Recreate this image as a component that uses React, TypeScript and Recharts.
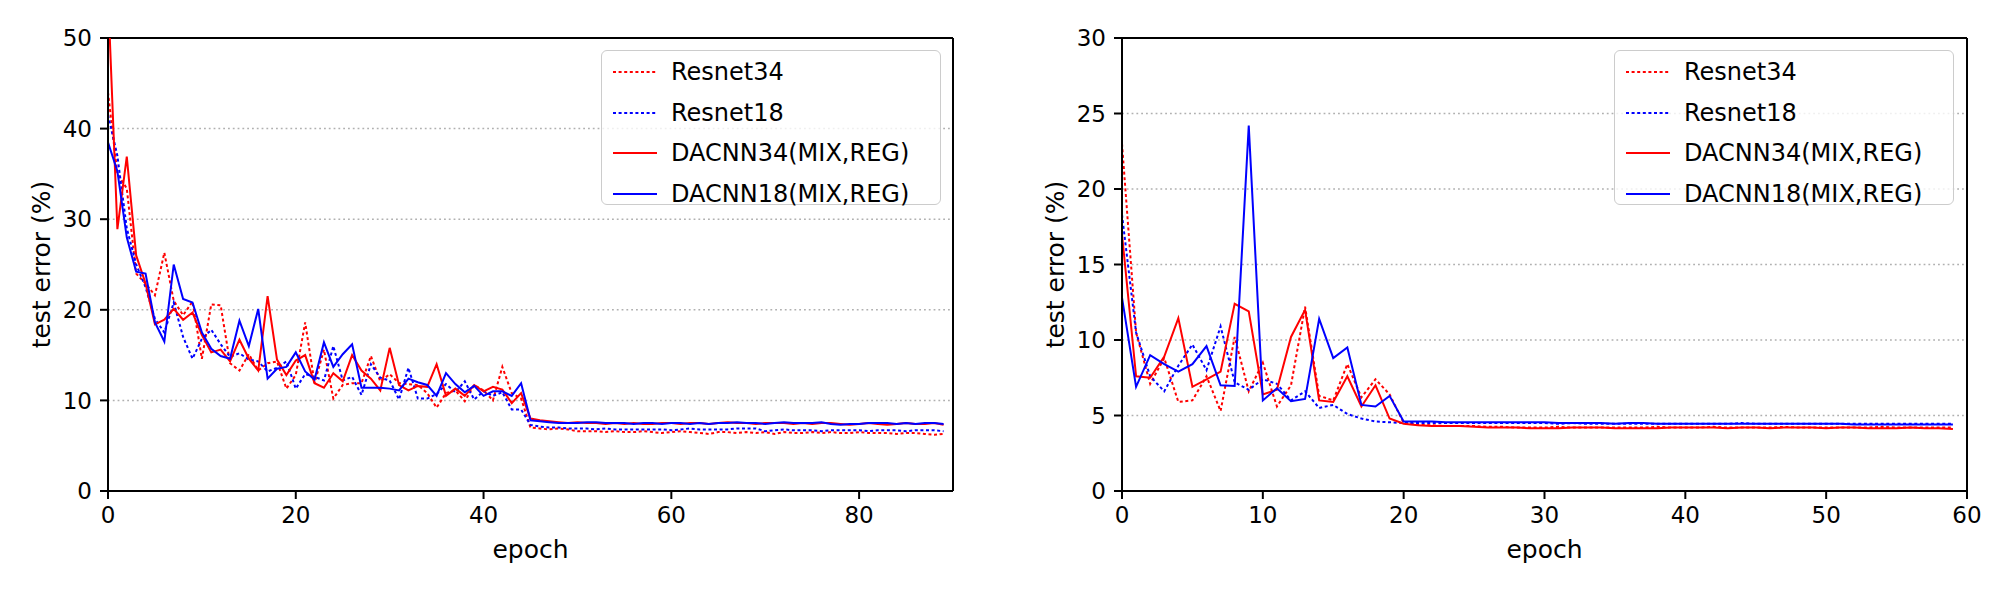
import React from 'react';
import { LineChart, Line, XAxis, YAxis, CartesianGrid, Legend, ReferenceLine } from 'recharts';

const FONT = '"DejaVu Sans", sans-serif';
const DASH = '3 2.6';

// ---------- Left panel (90 epochs) ----------
const epochsLeft: number[] = Array.from({ length: 90 }, (_, i) => i);
const xTicksLeft = [0, 20, 40, 60, 80];
const yTicksLeft = [0, 10, 20, 30, 40, 50];

const resnet34Left = [
  44, 35, 33.4, 24, 22.9, 21.6, 26.3, 21, 19.4, 20.9,
  14.6, 20.6, 20.5, 14.1, 13.3, 15.1, 13.3, 14.1, 14.3, 11.3,
  12.8, 18.6, 11.9, 15.6, 10.2, 11.7, 11.9, 11.9, 14.9, 12.1,
  12.9, 11.9, 11.8, 11.7, 10.8, 9.2, 10.8, 11.1, 9.9, 11.7,
  11.1, 10.0, 13.7, 10.8, 10.2, 7.0, 6.9, 6.8, 6.9, 6.8,
  6.6, 6.6, 6.6, 6.5, 6.6, 6.5, 6.5, 6.6, 6.5, 6.4,
  6.5, 6.6, 6.5, 6.4, 6.3, 6.5, 6.5, 6.4, 6.5, 6.4,
  6.5, 6.3, 6.5, 6.4, 6.4, 6.5, 6.4, 6.5, 6.4, 6.4,
  6.5, 6.4, 6.4, 6.4, 6.3, 6.4, 6.4, 6.3, 6.2, 6.3,
];
const resnet18Left = [
  41.5, 37, 29, 25, 22.5, 19, 17.5, 20.8, 17, 14.6,
  16.8, 17.8, 16.2, 14.8, 15.2, 14.5, 14.3, 13.2, 13.6, 14.3,
  11.3, 12.9, 12.6, 12.2, 16.0, 12.2, 12.6, 10.6, 14.0, 12.5,
  12.2, 10.1, 13.6, 10.2, 10.2, 10.7, 11.8, 10.9, 12.1, 10.1,
  11.0, 10.5, 10.9, 9.0, 9.0, 7.3, 7.1, 7.0, 7.0, 6.9,
  6.9, 6.9, 6.8, 6.9, 6.8, 6.8, 6.8, 6.8, 6.8, 6.8,
  6.7, 6.8, 6.9, 6.8, 6.8, 6.8, 6.8, 6.9, 6.9, 6.9,
  6.6, 6.7, 6.8, 6.7, 6.7, 6.7, 6.6, 6.7, 6.7, 6.7,
  6.7, 6.6, 6.7, 6.7, 6.7, 6.6, 6.7, 6.7, 6.7, 6.6,
];
const dacnn34Left = [
  55, 28.9, 36.9, 26.0, 22.9, 18.4, 18.9, 20.1, 18.9, 19.7,
  17.2, 15.3, 15.6, 14.3, 16.7, 14.6, 13.3, 21.5, 14.5, 12.8,
  14.4, 15.0, 11.9, 11.4, 13.0, 12.1, 15.0, 13.3, 12.4, 11.1,
  15.8, 11.7, 11.1, 11.6, 11.5, 14.0, 10.5, 11.3, 10.5, 11.7,
  11.0, 11.5, 11.2, 9.7, 10.8, 8.0, 7.8, 7.7, 7.6, 7.5,
  7.6, 7.5, 7.5, 7.4, 7.5, 7.4, 7.5, 7.4, 7.4, 7.5,
  7.5, 7.4, 7.5, 7.5, 7.4, 7.5, 7.6, 7.5, 7.5, 7.4,
  7.5, 7.5, 7.5, 7.4, 7.5, 7.4, 7.5, 7.5, 7.4, 7.3,
  7.4, 7.5, 7.4, 7.3, 7.4, 7.5, 7.4, 7.4, 7.5, 7.3,
];
const dacnn18Left = [
  38.5, 35.3, 28, 24.2, 24.0, 18.6, 16.5, 25.0, 21.2, 20.8,
  17.5, 15.7, 14.9, 14.6, 18.8, 16.0, 20.1, 12.4, 13.5, 13.7,
  15.3, 13.2, 12.3, 16.4, 13.7, 15.1, 16.2, 11.4, 11.4, 11.4,
  11.3, 11.1, 12.4, 12.0, 11.7, 10.5, 13.0, 11.8, 10.9, 11.6,
  10.5, 11.0, 11.0, 10.5, 11.9, 7.8, 7.7, 7.6, 7.5, 7.5,
  7.5, 7.6, 7.6, 7.5, 7.5, 7.5, 7.4, 7.5, 7.5, 7.4,
  7.5, 7.5, 7.4, 7.5, 7.4, 7.5, 7.5, 7.6, 7.5, 7.5,
  7.4, 7.5, 7.6, 7.5, 7.5, 7.5, 7.6, 7.4, 7.3, 7.4,
  7.4, 7.5, 7.5, 7.5, 7.4, 7.5, 7.4, 7.5, 7.5, 7.4,
];

// ---------- Right panel (60 epochs) ----------
const epochsRight: number[] = Array.from({ length: 60 }, (_, i) => i);
const xTicksRight = [0, 10, 20, 30, 40, 50, 60];
const yTicksRight = [0, 5, 10, 15, 20, 25, 30];

const resnet34Right = [
  23.0, 10.5, 7.1, 8.8, 5.9, 6.0, 7.6, 5.3, 10.2, 6.6,
  8.5, 5.6, 7.0, 12.2, 6.3, 6.0, 8.4, 6.2, 7.4, 6.4,
  4.5, 4.4, 4.35, 4.3, 4.3, 4.3, 4.25, 4.25, 4.2, 4.2,
  4.2, 4.25, 4.2, 4.2, 4.2, 4.2, 4.2, 4.2, 4.25, 4.2,
  4.2, 4.2, 4.25, 4.2, 4.2, 4.2, 4.2, 4.25, 4.2, 4.2,
  4.2, 4.2, 4.2, 4.2, 4.25, 4.2, 4.2, 4.2, 4.2, 4.2,
];
const resnet18Right = [
  18.3, 10.5, 7.6, 6.6, 8.3, 9.7, 8.0, 10.9, 7.2, 6.7,
  7.4, 7.1, 6.0, 6.6, 5.5, 5.7, 5.1, 4.8, 4.6, 4.55,
  4.5, 4.5, 4.5, 4.5, 4.5, 4.5, 4.5, 4.5, 4.5, 4.5,
  4.5, 4.45, 4.5, 4.45, 4.45, 4.45, 4.45, 4.45, 4.45, 4.45,
  4.45, 4.45, 4.45, 4.45, 4.5, 4.45, 4.45, 4.45, 4.45, 4.45,
  4.45, 4.45, 4.45, 4.45, 4.45, 4.45, 4.45, 4.45, 4.45, 4.45,
];
const dacnn34Right = [
  17.0, 7.6, 7.5, 8.9, 11.45, 6.9, 7.4, 7.9, 12.4, 11.9,
  6.4, 6.7, 10.2, 12.0, 6.0, 5.9, 7.6, 5.6, 7.0, 4.8,
  4.45, 4.35, 4.3, 4.3, 4.3, 4.25, 4.2, 4.2, 4.2, 4.15,
  4.15, 4.15, 4.2, 4.2, 4.2, 4.15, 4.15, 4.15, 4.15, 4.2,
  4.2, 4.2, 4.2, 4.15, 4.2, 4.2, 4.15, 4.2, 4.2, 4.2,
  4.15, 4.2, 4.2, 4.15, 4.15, 4.15, 4.2, 4.15, 4.15, 4.1,
];
const dacnn18Right = [
  12.8, 6.9, 9.0, 8.4, 7.9, 8.4, 9.6, 7.0, 6.95, 24.2,
  6.0, 6.8, 5.95, 6.1, 11.4, 8.8, 9.5, 5.7, 5.6, 6.3,
  4.6, 4.6, 4.6, 4.55, 4.55, 4.55, 4.55, 4.55, 4.55, 4.55,
  4.55, 4.5, 4.5, 4.5, 4.5, 4.45, 4.5, 4.5, 4.45, 4.45,
  4.45, 4.45, 4.45, 4.45, 4.45, 4.45, 4.45, 4.45, 4.45, 4.45,
  4.45, 4.45, 4.4, 4.4, 4.4, 4.4, 4.4, 4.4, 4.4, 4.4,
];

const SERIES = [
  { key: 'r34', name: 'Resnet34', color: '#ff0000', dashed: true },
  { key: 'r18', name: 'Resnet18', color: '#0000ff', dashed: true },
  { key: 'd34', name: 'DACNN34(MIX,REG)', color: '#ff0000', dashed: false },
  { key: 'd18', name: 'DACNN18(MIX,REG)', color: '#0000ff', dashed: false },
];

const leftData = epochsLeft.map((e, i) => ({
  epoch: e,
  r34: resnet34Left[i],
  r18: resnet18Left[i],
  d34: dacnn34Left[i],
  d18: dacnn18Left[i],
}));
const rightData = epochsRight.map((e, i) => ({
  epoch: e,
  r34: resnet34Right[i],
  r18: resnet18Right[i],
  d34: dacnn34Right[i],
  d18: dacnn18Right[i],
}));

const LegendBox = () => (
  <div
    style={{
      width: 340,
      height: 155,
      boxSizing: 'border-box',
      border: '1.5px solid #cccccc',
      borderRadius: 6,
      background: 'rgba(255,255,255,0.8)',
      position: 'relative',
      fontFamily: FONT,
      fontSize: 24,
    }}
  >
    {SERIES.map((s, i) => (
      <div
        key={s.key}
        style={{
          position: 'absolute',
          left: 11,
          top: 21 + i * 40.5 - 15,
          height: 30,
          display: 'flex',
          alignItems: 'center',
        }}
      >
        <svg width={44} height={30} style={{ display: 'block' }}>
          <line
            x1={0}
            y1={15}
            x2={44}
            y2={15}
            stroke={s.color}
            strokeWidth={2}
            strokeDasharray={s.dashed ? DASH : undefined}
          />
        </svg>
        <span style={{ marginLeft: 14, whiteSpace: 'nowrap', color: '#000', lineHeight: '30px' }}>
          {s.name}
        </span>
      </div>
    ))}
  </div>
);

const tickStyle = { fontSize: 23, fill: '#000', fontFamily: FONT };
const labelStyle = { fontSize: 25, fill: '#000', fontFamily: FONT };
const axisLine = { stroke: '#000', strokeWidth: 2 };
const tickLine = { stroke: '#000', strokeWidth: 2 };

type PanelProps = {
  data: any[];
  xMax: number;
  xTicks: number[];
  yMax: number;
  yTicks: number[];
  marginLeft: number;
  marginRight: number;
};

const Panel = ({ data, xMax, xTicks, yMax, yTicks, marginLeft, marginRight }: PanelProps) => (
  <LineChart
    width={1000}
    height={594}
    data={data}
    margin={{ top: 38, right: marginRight, bottom: 28, left: marginLeft }}
  >
    <CartesianGrid vertical={false} stroke="#b0b0b0" strokeDasharray="1.8 3" strokeWidth={1.5} />
    <XAxis
      dataKey="epoch"
      type="number"
      domain={[0, xMax]}
      ticks={xTicks}
      interval={0}
      allowDataOverflow
      height={75}
      tickSize={8}
      tickMargin={8}
      tick={tickStyle}
      axisLine={axisLine}
      tickLine={tickLine}
      label={{ value: 'epoch', position: 'insideBottom', offset: 8, style: labelStyle }}
    />
    <YAxis
      type="number"
      domain={[0, yMax]}
      ticks={yTicks}
      interval={0}
      allowDataOverflow
      width={100}
      tickSize={8}
      tickMargin={8}
      tick={tickStyle}
      axisLine={axisLine}
      tickLine={tickLine}
      label={{
        value: 'test error (%)',
        angle: -90,
        position: 'insideLeft',
        offset: 33,
        style: { ...labelStyle, textAnchor: 'middle' },
      }}
    />
    <ReferenceLine y={yMax} stroke="#000" strokeWidth={2} ifOverflow="visible" />
    <ReferenceLine x={xMax} stroke="#000" strokeWidth={2} ifOverflow="visible" />
    <Legend
      layout="vertical"
      align="center"
      verticalAlign="middle"
      content={() => <LegendBox />}
      wrapperStyle={{ left: 601, top: 50, width: 340, height: 155 }}
    />
    {SERIES.map((s) => (
      <Line
        key={s.key}
        type="linear"
        dataKey={s.key}
        name={s.name}
        stroke={s.color}
        strokeWidth={2}
        strokeDasharray={s.dashed ? DASH : undefined}
        dot={false}
        activeDot={false}
        isAnimationActive={false}
      />
    ))}
  </LineChart>
);

export default function App() {
  return (
    <div style={{ position: 'absolute', left: 0, top: 0, width: 2013, height: 594, background: '#fff' }}>
      <div style={{ position: 'absolute', left: 0, top: 0 }}>
        <Panel
          data={leftData}
          xMax={90}
          xTicks={xTicksLeft}
          yMax={50}
          yTicks={yTicksLeft}
          marginLeft={8}
          marginRight={47}
        />
      </div>
      <div style={{ position: 'absolute', left: 1013, top: 0 }}>
        <Panel
          data={rightData}
          xMax={60}
          xTicks={xTicksRight}
          yMax={30}
          yTicks={yTicksRight}
          marginLeft={9}
          marginRight={46}
        />
      </div>
    </div>
  );
}
